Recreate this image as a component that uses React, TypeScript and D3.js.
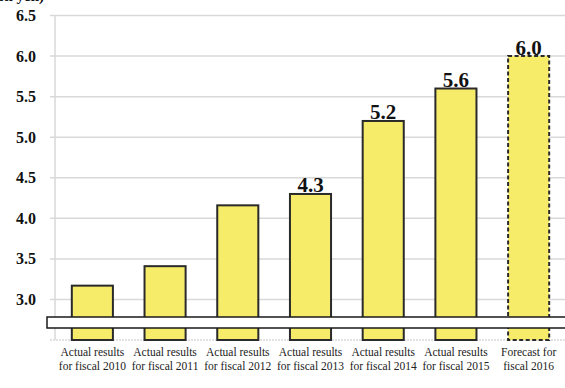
import React from "react";
import * as d3 from "d3";

const categories = [
  ["Actual results", "for fiscal 2010"],
  ["Actual results", "for fiscal 2011"],
  ["Actual results", "for fiscal 2012"],
  ["Actual results", "for fiscal 2013"],
  ["Actual results", "for fiscal 2014"],
  ["Actual results", "for fiscal 2015"],
  ["Forecast for", "fiscal 2016"],
];
const values = [3.17, 3.41, 4.16, 4.3, 5.2, 5.6, 6.0];
const valueLabels = ["", "", "", "4.3", "5.2", "5.6", "6.0"];
const forecast = [false, false, false, false, false, false, true];
const yTicks = [3.0, 3.5, 4.0, 4.5, 5.0, 5.5, 6.0, 6.5];

const W = 565;
const H = 388;
const serif = "'Liberation Serif', 'Times New Roman', Times, 'DejaVu Serif', serif";

export default function App() {
  const y = d3.scaleLinear().domain([2.5, 6.5]).range([340, 15.5]);
  const x = d3
    .scaleBand<number>()
    .domain(d3.range(categories.length))
    .range([56, 565])
    .paddingInner(0.435)
    .paddingOuter(0.2175);
  const bw = x.bandwidth();
  const ts = { fontFamily: serif } as React.CSSProperties;
  return (
    <svg
      width={W}
      height={H}
      style={{ position: "absolute", left: 0, top: 0, display: "block", background: "#fff", fontFamily: serif }}
    >
      <text x={44} y={1} textAnchor="end" fontSize={15} fontWeight="bold" fill="#111" style={ts}>(trillion yen)</text>
      {/* gridlines */}
      {yTicks.map((t) => (
        <line key={t} x1={50} x2={W} y1={y(t)} y2={y(t)} stroke="#d9d9d9" strokeWidth={1.5} />
      ))}
      <line x1={50} x2={W} y1={y(2.5)} y2={y(2.5)} stroke="#d9d9d9" strokeWidth={1.5} strokeDasharray="2,1" />
      <line x1={55} x2={55} y1={y(6.5)} y2={y(2.5)} stroke="#d9d9d9" strokeWidth={1.5} />
      {/* y labels */}
      {yTicks.map((t) => (
        <text
          key={"l" + t}
          x={36}
          y={y(t)}
          dy="0.35em"
          textAnchor="end"
          fontSize={16}
          fontWeight="bold"
          fill="#111"
          style={ts}
        >
          {t.toFixed(1)}
        </text>
      ))}
      {/* bars */}
      {values.map((v, i) => (
        <rect
          key={"b" + i}
          x={(x(i) as number)}
          y={y(v)}
          width={bw}
          height={y(2.5) - y(v)}
          fill="#f7ec6a"
          stroke="#2a2a2a"
          strokeWidth={2}
          strokeDasharray={forecast[i] ? "4,2.5" : undefined}
        />
      ))}
      {/* value labels */}
      {values.map((v, i) =>
        valueLabels[i] ? (
          <text
            key={"v" + i}
            x={(x(i) as number) + bw / 2}
            y={y(v) - 1.5}
            textAnchor="middle"
            fontSize={21}
            fontWeight="bold"
            fill="#111"
            style={ts}
          >
            {valueLabels[i]}
          </text>
        ) : null
      )}
      {/* axis break band */}
      <rect x={47} y={317} width={W} height={11} fill="#fff" stroke="#1a1a1a" strokeWidth={1.5} />
      {/* x labels */}
      {categories.map((c, i) => (
        <text
          key={"x" + i}
          x={(x(i) as number) + bw / 2}
          textAnchor="middle"
          fontSize={11.5}
          fill="#222"
          style={ts}
        >
          <tspan x={(x(i) as number) + bw / 2} y={356}>{c[0]}</tspan>
          <tspan x={(x(i) as number) + bw / 2} y={370}>{c[1]}</tspan>
        </text>
      ))}
    </svg>
  );
}
